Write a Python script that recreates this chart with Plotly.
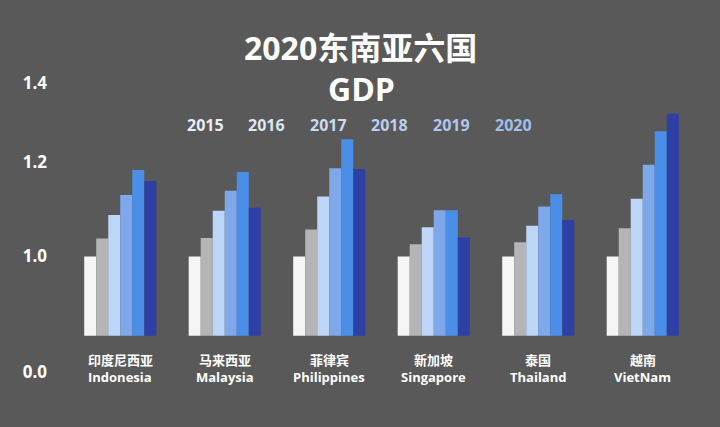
import plotly.graph_objects as go

countries_cn = ["印度尼西亚", "马来西亚", "菲律宾", "新加坡", "泰国", "越南"]
countries_en = ["Indonesia", "Malaysia", "Philippines", "Singapore", "Thailand", "VietNam"]
years = ["2015", "2016", "2017", "2018", "2019", "2020"]

gdp_2015 = [1.000, 1.000, 1.000, 1.000, 1.000, 1.000]
gdp_2016 = [1.038, 1.039, 1.057, 1.026, 1.030, 1.060]
gdp_2017 = [1.088, 1.097, 1.127, 1.062, 1.065, 1.122]
gdp_2018 = [1.130, 1.139, 1.187, 1.098, 1.106, 1.194]
gdp_2019 = [1.183, 1.179, 1.248, 1.098, 1.132, 1.265]
gdp_2020 = [1.160, 1.103, 1.185, 1.040, 1.077, 1.302]

series = [gdp_2015, gdp_2016, gdp_2017, gdp_2018, gdp_2019, gdp_2020]
bar_colors = ["#f5f5f5", "#b5b5b7", "#bdd6f7", "#7fa8ea", "#4a8ee8", "#2e3fa6"]
legend_colors = ["#eaeef4", "#dde6f2", "#cbdaf0", "#bccfee", "#b0c7ea", "#a3bee8"]

BG = "#595959"
FONT = "Open Sans, Noto Sans CJK SC"
FONT_CJK = "Noto Sans CJK SC"
BASE = 0.832  # visual baseline of the (broken) axis

# plot area in pixels
W, H = 720, 427
ML, MR, MT, MB = 68, 25, 60, 47
plot_l, plot_r = ML, W - MR
plot_t, plot_b = MT, H - MB
pw, ph = plot_r - plot_l, plot_b - plot_t


def px_x(x):
    return (x - plot_l) / pw


def px_y(y):
    return (plot_b - y) / ph


fig = go.Figure()
for yr, vals, col in zip(years, series, bar_colors):
    fig.add_trace(go.Bar(
        x=countries_en, y=[v - BASE for v in vals], base=BASE,
        name=yr, marker=dict(color=col, line=dict(width=0)),
        showlegend=False,
    ))

annotations = []
annotations.append(dict(text="<b>2020东南亚六国</b>", x=px_x(360), xref="paper", y=px_y(47),
                        yref="paper", xanchor="center", yanchor="middle", showarrow=False,
                        font=dict(size=32, color="white", family=FONT)))
annotations.append(dict(text="<b>GDP</b>", x=px_x(361), xref="paper", y=px_y(88),
                        yref="paper", xanchor="center", yanchor="middle", showarrow=False,
                        font=dict(size=32, color="white", family=FONT)))
for i, (yr, col) in enumerate(zip(years, legend_colors)):
    annotations.append(dict(text="<b>" + yr + "</b>", x=px_x(205 + i * 61.6), xref="paper",
                            y=px_y(125), yref="paper", xanchor="center", yanchor="middle",
                            showarrow=False, font=dict(size=16, color=col, family=FONT)))
for cn, en in zip(countries_cn, countries_en):
    annotations.append(dict(text="<b>" + cn + "</b>", x=en, xref="x",
                            y=px_y(359), yref="paper", xanchor="center", yanchor="middle",
                            showarrow=False, font=dict(size=13, color="white", family=FONT_CJK)))
    annotations.append(dict(text="<b>" + en + "</b>", x=en, xref="x",
                            y=px_y(377), yref="paper", xanchor="center", yanchor="middle",
                            showarrow=False, font=dict(size=13, color="white", family=FONT)))

fig.update_layout(
    width=W, height=H,
    paper_bgcolor=BG, plot_bgcolor=BG,
    margin=dict(l=ML, r=MR, t=MT, b=MB),
    barmode="group", bargap=0.31, bargroupgap=0,
    font=dict(family=FONT, color="white"),
    xaxis=dict(showticklabels=False, showgrid=False, zeroline=False, showline=False,
               range=[-0.5, 5.5]),
    yaxis=dict(range=[0.7386, 1.4159], showgrid=False, zeroline=False, showline=False,
               tickmode="array", tickvals=[0.756, 1.0, 1.2, 1.367],
               ticktext=["<b>0.0</b>", "<b>1.0</b>", "<b>1.2</b>", "<b>1.4</b>"],
               tickfont=dict(size=17, color="white", family=FONT),
               ticks="", ticklabelstandoff=20),
    annotations=annotations,
)

fig.write_html("out.html")
